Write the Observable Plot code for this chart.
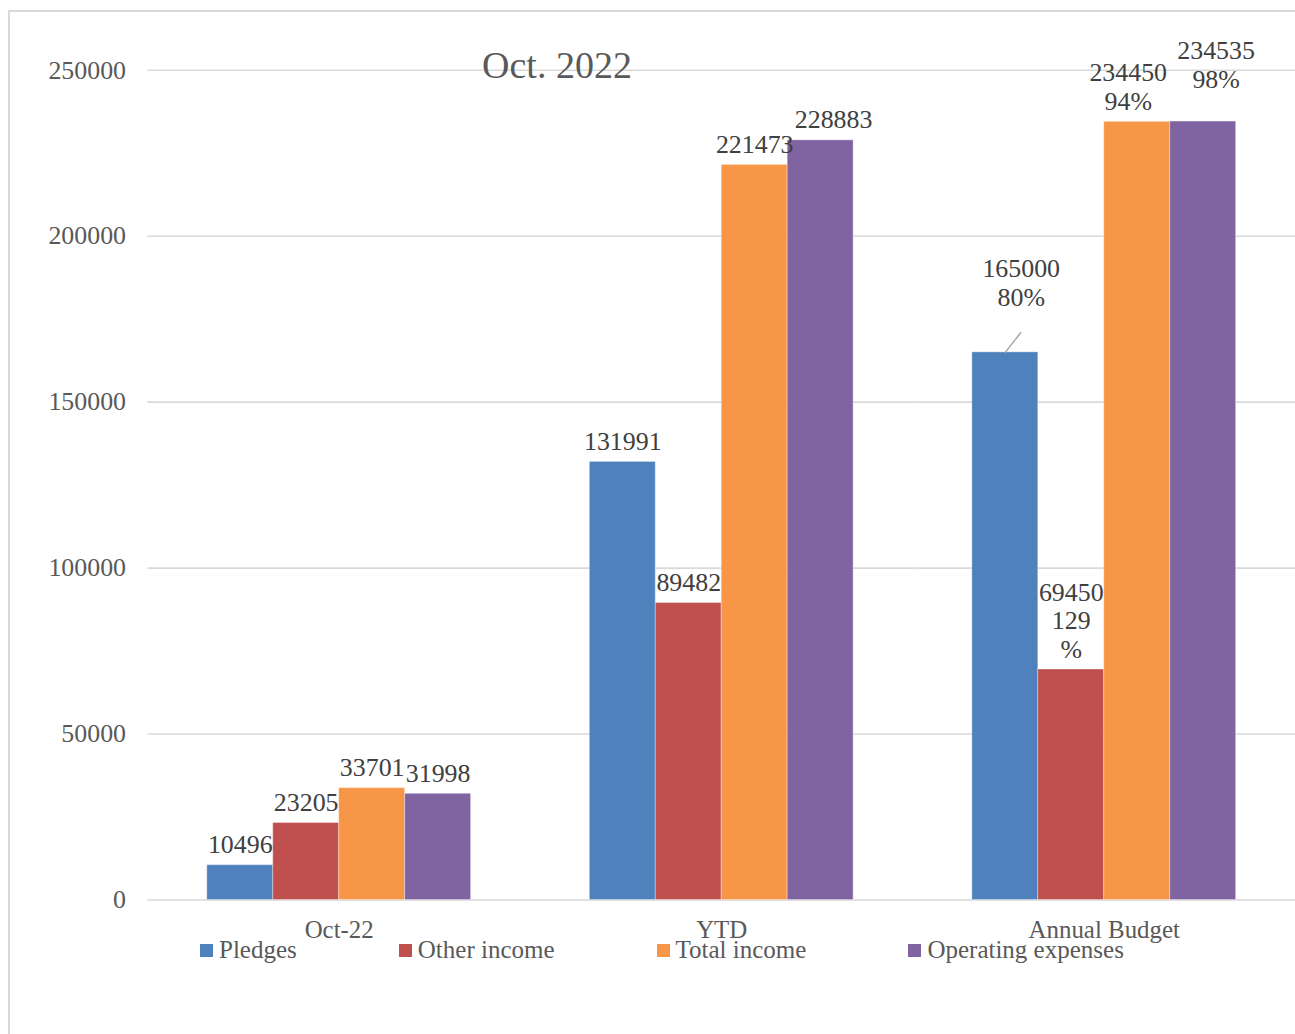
<!DOCTYPE html>
<html><head><meta charset="utf-8">
<script src="https://cdn.jsdelivr.net/npm/d3@7"></script>
<script src="https://cdn.jsdelivr.net/npm/@observablehq/plot@0.6"></script>
<style>
html,body{margin:0;padding:0;background:#fff;overflow:hidden;width:1295px;height:1034px}
#wrap{position:relative;width:1295px;height:1034px;overflow:hidden;font-family:"Liberation Serif",serif}
#frame{position:absolute;left:8px;top:10px;width:1400px;height:1100px;border-left:2px solid #d9d9d9;border-top:2px solid #d9d9d9;box-sizing:border-box}
#chart{position:absolute;left:0;top:0}
#title{position:absolute;left:0;width:1114px;text-align:center;top:43px;font-size:38px;line-height:44px;color:#595959}
#legend{position:absolute;left:200px;top:935px;display:flex;align-items:center;height:30px;font-size:25px;color:#595959}
#legend .item{display:flex;align-items:center;margin-right:102px;white-space:nowrap}
#legend .sw{width:13px;height:13px;margin-right:6px;display:inline-block}
</style></head>
<body><div id="wrap"><div id="frame"></div><div id="chart"></div><div id="title">Oct. 2022</div><div id="legend"></div></div>
<script>
const title = "Oct. 2022";
const groups = ["Oct-22", "YTD", "Annual Budget"];
const series = ["Pledges", "Other income", "Total income", "Operating expenses"];
const colors = ["#4F81BD", "#C0504D", "#F79646", "#8064A2"];
const pledges = [10496, 131991, 165000];
const otherIncome = [23205, 89482, 69450];
const totalIncome = [33701, 221473, 234450];
const operatingExpenses = [31998, 228883, 234535];
// percentage notes shown under the Annual Budget labels (as displayed)
const budgetPercent = ["80%", "129\n%", "94%", "98%"];
const yTicks = [0, 50000, 100000, 150000, 200000, 250000];

const valuesBySeries = [pledges, otherIncome, totalIncome, operatingExpenses];
const rows = [];
groups.forEach((g, gi) => {
  series.forEach((s, si) => {
    const v = valuesBySeries[si][gi];
    const label = g === "Annual Budget" ? `${v}\n${budgetPercent[si]}` : `${v}`;
    rows.push({group: g, series: s, value: v, label});
  });
});

// label nudges (layout only)
const nudges = {
  "Annual Budget|Pledges": [16, -47],
  "Annual Budget|Operating expenses": [13, -34],
  "Annual Budget|Total income": [-9, -12],
  "YTD|Operating expenses": [13, -12]
};
const key = d => `${d.group}|${d.series}`;
const labelFont = {fontSize: 26, fill: "#404040", lineAnchor: "bottom", lineHeight: 1.1};

const labelMarks = [
  Plot.text(rows, {filter: d => !(key(d) in nudges), fx: "group", x: "series", y: "value", text: "label", dy: -12, ...labelFont})
];
for (const [k, [dx, dy]] of Object.entries(nudges)) {
  labelMarks.push(Plot.text(rows, {filter: d => key(d) === k, fx: "group", x: "series", y: "value", text: "label", dx, dy, ...labelFont}));
}

const chart = Plot.plot({
  width: 1300,
  height: 1034,
  marginLeft: 148,
  marginRight: 0,
  marginTop: 70,
  marginBottom: 131,
  style: {fontFamily: "Liberation Serif", color: "#595959", background: "transparent"},
  fx: {domain: groups, padding: 0, axis: null},
  x: {domain: series, paddingInner: 0, paddingOuter: 0.9, round: false, axis: null},
  y: {domain: [0, 250000], axis: null},
  color: {domain: series, range: colors},
  marks: [
    Plot.gridY(yTicks, {stroke: "#d9d9d9", strokeOpacity: 1, strokeWidth: 1.6}),
    Plot.axisY(yTicks, {tickSize: 0, tickPadding: 22, tickFormat: d3.format("d"), fontSize: 26, fill: "#595959", label: null}),
    Plot.axisFx({anchor: "bottom", tickSize: 0, tickPadding: 20, fontSize: 25, fill: "#595959", label: null}),
    Plot.barY(rows, {fx: "group", x: "series", y: "value", fill: "series", stroke: "#ffffff", strokeOpacity: 0.35, strokeWidth: 1}),
    Plot.vector(rows.filter(d => key(d) === "Annual Budget|Pledges"), {
      fx: "group", x: "series", y: "value", anchor: "start", length: 25, rotate: 38,
      stroke: "#a6a6a6", strokeWidth: 1.5,
      shape: {draw(context, l) { context.moveTo(0, 0); context.lineTo(0, -l); }}
    }),
    ...labelMarks
  ]
});
document.getElementById("chart").appendChild(chart);

const legend = document.getElementById("legend");
series.forEach((s, i) => {
  const item = document.createElement("div");
  item.className = "item";
  const sw = document.createElement("span");
  sw.className = "sw";
  sw.style.background = colors[i];
  item.appendChild(sw);
  item.appendChild(document.createTextNode(s));
  legend.appendChild(item);
});
</script></body></html>
